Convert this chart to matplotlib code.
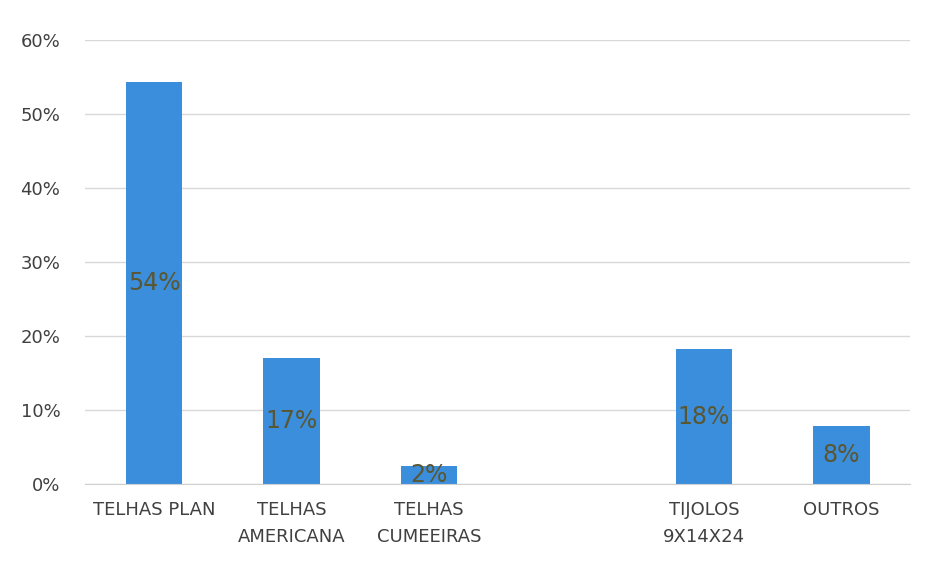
import numpy as np
from matplotlib import pyplot as plt
from matplotlib.ticker import PercentFormatter

plt.rcParams['font.family'] = ['Liberation Sans Narrow', 'DejaVu Sans']

categories = ["TELHAS PLAN", "TELHAS\nAMERICANA", "TELHAS\nCUMEEIRAS", "", "TIJOLOS\n9X14X24", "OUTROS"]
values = [0.543, 0.17, 0.024, np.nan, 0.182, 0.078]
labels = ["54%", "17%", "2%", "", "18%", "8%"]

fig = plt.figure(figsize=(9.27, 5.66), dpi=100)
ax = fig.add_axes([0.092, 0.145, 0.89, 0.784])

x = np.arange(len(categories))
bars = ax.bar(x, values, width=0.41, color="#3b8edb", zorder=2)

for b, v, lab in zip(bars, values, labels):
    if lab:
        ax.text(b.get_x() + b.get_width() / 2, v / 2, lab, ha="center", va="center",
                fontsize=17, color="#5b5632", zorder=3)

ax.set_ylim(0, 0.6)
ax.set_xlim(-0.5, len(categories) - 0.5)
ax.set_yticks(np.arange(0, 0.61, 0.1))
ax.yaxis.set_major_formatter(PercentFormatter(1.0, decimals=0))
ax.set_xticks(x)
ax.set_xticklabels(categories, fontsize=13, color="#404040", linespacing=1.7)
ax.tick_params(axis="y", labelsize=13, labelcolor="#404040", length=0, pad=18)
ax.tick_params(axis="x", length=0, pad=12)
ax.grid(axis="y", color="#d9d9d9", linewidth=1, zorder=0)
for s in ["top", "right", "left"]:
    ax.spines[s].set_visible(False)
ax.spines["bottom"].set_color("#d0d0d0")

fig.savefig("out.png", dpi=100)
